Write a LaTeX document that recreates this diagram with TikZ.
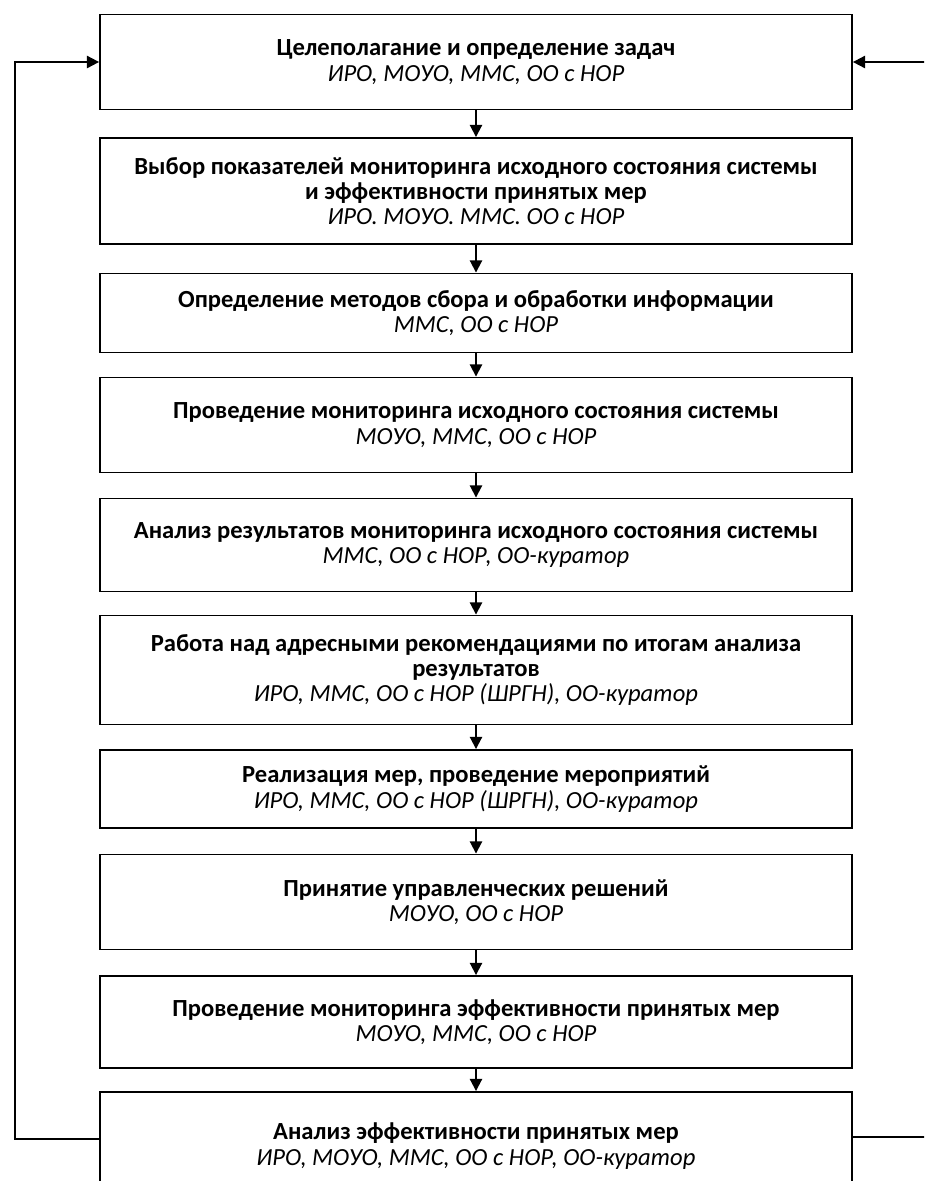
\documentclass[tikz,border=0pt]{standalone}
\usepackage{fontspec}
\setmainfont{Carlito}
\usetikzlibrary{arrows.meta}

\begin{document}
\begin{tikzpicture}[x=0.02cm,y=-0.02cm,line width=1.1pt,
  blok/.style={draw,align=center,minimum width=15.04cm,inner sep=2pt,
    font=\fontsize{14}{14.4}\selectfont},
  pil/.style={-{Triangle[length=7pt,width=7pt]}}]
\useasboundingbox(0,0)rectangle(924,1181);
\clip(0,0)rectangle(924,1181);
\node[blok,minimum height=1.9cm](b1)at(476,62){\textbf{Целеполагание и определение задач}\\\textit{ИРО, МОУО, ММС, ОО с НОР}};
\node[blok,minimum height=2.12cm](b2)at(476,191){\textbf{Выбор показателей мониторинга исходного состояния системы}\\\textbf{и эффективности принятых мер}\\\textit{ИРО. МОУО. ММС. ОО с НОР}};
\node[blok,minimum height=1.58cm](b3)at(476,313){\textbf{Определение методов сбора и обработки информации}\\\textit{ММС, ОО с НОР}};
\node[blok,minimum height=1.9cm](b4)at(476,425){\textbf{Проведение мониторинга исходного состояния системы}\\\textit{МОУО, ММС, ОО с НОР}};
\node[blok,minimum height=1.86cm](b5)at(476,545){\textbf{Анализ результатов мониторинга исходного состояния системы}\\\textit{ММС, ОО с НОР, ОО-куратор}};
\node[blok,minimum height=2.18cm](b6)at(476,670){\textbf{Работа над адресными рекомендациями по итогам анализа}\\\textbf{результатов}\\\textit{ИРО, ММС, ОО с НОР (ШРГН), ОО-куратор}};
\node[blok,minimum height=1.56cm](b7)at(476,789){\textbf{Реализация мер, проведение мероприятий}\\\textit{ИРО, ММС, ОО с НОР (ШРГН), ОО-куратор}};
\node[blok,minimum height=1.9cm](b8)at(476,902){\textbf{Принятие управленческих решений}\\\textit{МОУО, ОО с НОР}};
\node[blok,minimum height=1.84cm](b9)at(476,1022){\textbf{Проведение мониторинга эффективности принятых мер}\\\textit{МОУО, ММС, ОО с НОР}};
\node[blok,minimum height=2.16cm](b10)at(476,1146){\textbf{Анализ эффективности принятых мер}\\\textit{ИРО, МОУО, ММС, ОО с НОР, ОО-куратор}};
\draw[pil](b1)--(b2);
\draw[pil](b2)--(b3);
\draw[pil](b3)--(b4);
\draw[pil](b4)--(b5);
\draw[pil](b5)--(b6);
\draw[pil](b6)--(b7);
\draw[pil](b7)--(b8);
\draw[pil](b8)--(b9);
\draw[pil](b9)--(b10);
\coordinate(lb)at(15,1139);
\coordinate(lt)at(15,62);
\coordinate(rb)at(932,1137);
\coordinate(rt)at(932,62);
\draw[pil](b10.west|-lb)--(lb)--(lt)--(b1.west);
\draw[pil](b10.east|-rb)--(rb)--(rt)--(b1.east);
\end{tikzpicture}
\end{document}
